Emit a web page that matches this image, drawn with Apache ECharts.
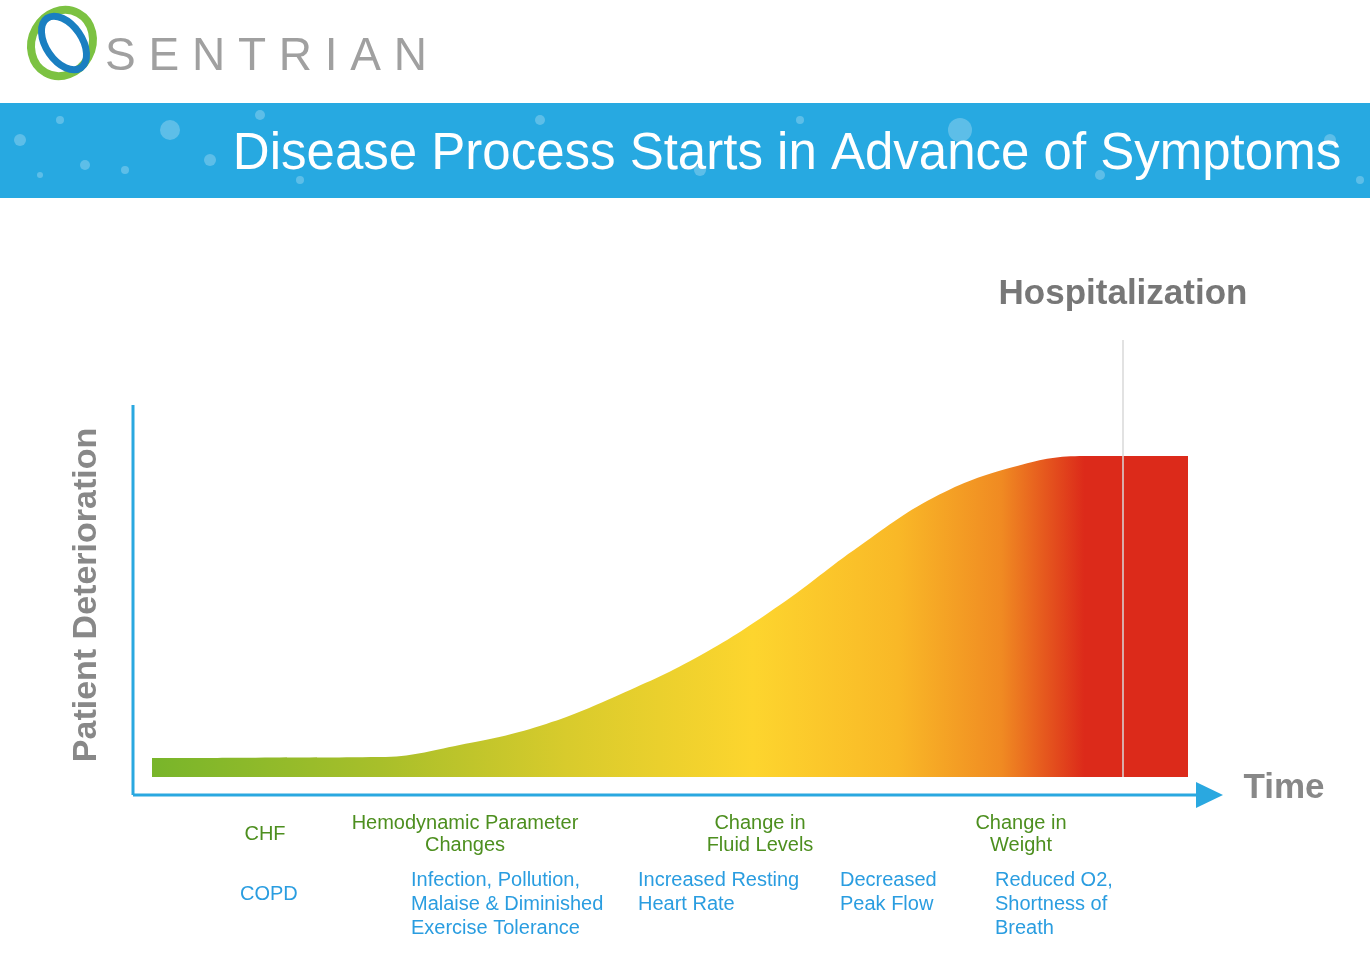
<!DOCTYPE html>
<html><head><meta charset="utf-8">
<script src="https://cdn.jsdelivr.net/npm/echarts@6/dist/echarts.min.js"></script>
<style>html,body{margin:0;padding:0;background:#fff}#c{width:1370px;height:966px}</style>
</head><body><div id="c"></div>
<script>
const xs = [0, 10, 22, 29.7, 37.5, 45, 53, 60.6, 68.3, 76, 83.6, 90, 100];
const ys = [5.9, 6, 6.2, 10, 16, 25.5, 38, 53.6, 72, 88, 97, 100, 100];
const greenLabels = [
  {t:'CHF', x:265, y:834},
  {t:'Hemodynamic Parameter\nChanges', x:465, y:834},
  {t:'Change in\nFluid Levels', x:760, y:834},
  {t:'Change in\nWeight', x:1021, y:834}
];
const blueLabels = [
  {t:'COPD', x:240, y:882},
  {t:'Infection, Pollution,\nMalaise & Diminished\nExercise Tolerance', x:411, y:868},
  {t:'Increased Resting\nHeart Rate', x:638, y:868},
  {t:'Decreased\nPeak Flow', x:840, y:868},
  {t:'Reduced O2,\nShortness of\nBreath', x:995, y:868}
];
const chart = echarts.init(document.getElementById('c'));
const F = 'Liberation Sans, Arial, sans-serif';
const bubbles = [[20,140,6],[60,120,4],[85,165,5],[125,170,4],[170,130,10],[210,160,6],[260,115,5],[300,180,4],[40,175,3],[540,120,5],[700,170,6],[960,130,12],[1100,175,5],[1330,140,6],[1360,180,4],[800,120,4]];
const graphics = [
  {type:'rect', shape:{x:0,y:103,width:1370,height:95}, style:{fill:'#27a9e1'}},
  ...bubbles.map(b=>({type:'circle', shape:{cx:b[0],cy:b[1],r:b[2]}, style:{fill:'rgba(255,255,255,0.25)'}})),
  {type:'text', style:{x:787, y:155, text:'Disease Process Starts in Advance of Symptoms', fill:'#fff', font:'51px '+F, align:'center', verticalAlign:'middle'}},
  {type:'ellipse', shape:{cx:62,cy:43,rx:30,ry:34}, rotation:-0.5, originX:62, originY:43, style:{fill:'none', stroke:'#7cc242', lineWidth:8}},
  {type:'ellipse', shape:{cx:64,cy:43,rx:18,ry:30}, rotation:0.6, originX:64, originY:43, style:{fill:'none', stroke:'#1a7fc1', lineWidth:7}},
  {type:'text', style:{x:105, y:57, text:'S E N T R I A N', fill:'#a0a0a0', font:'300 46px '+F, verticalAlign:'middle'}},
  {type:'line', shape:{x1:133,y1:405,x2:133,y2:795}, style:{stroke:'#2aa8e0', lineWidth:3}},
  {type:'line', shape:{x1:133,y1:795,x2:1200,y2:795}, style:{stroke:'#2aa8e0', lineWidth:3}},
  {type:'polygon', shape:{points:[[1196,782],[1223,795],[1196,808]]}, style:{fill:'#2aa8e0'}},
  {type:'line', z:100, shape:{x1:1123,y1:340,x2:1123,y2:777}, style:{stroke:'#d8d8d8', lineWidth:1.5}},
  {type:'text', style:{x:1123, y:294, text:'Hospitalization', fill:'#777', font:'bold 35px '+F, align:'center', verticalAlign:'middle'}},
  {type:'text', style:{x:1284, y:788, text:'Time', fill:'#888', font:'bold 35px '+F, align:'center', verticalAlign:'middle'}},
  {type:'text', x:87, y:595, rotation:Math.PI/2, style:{x:0, y:0, text:'Patient Deterioration', fill:'#888', font:'bold 34px '+F, align:'center', verticalAlign:'middle'}},
  ...greenLabels.map(l=>({type:'text', style:{x:l.x, y:l.y, text:l.t, fill:'#4d8f1f', font:'20px '+F, align:'center', verticalAlign:'middle', lineHeight:22}})),
  ...blueLabels.map(l=>({type:'text', style:{x:l.x, y:l.y, text:l.t, fill:'#2a9de0', font:'20px '+F, align:'left', verticalAlign:'top', lineHeight:24}}))
];
chart.setOption({
  animation:false,
  grid:{left:152, top:456, width:1036, height:321},
  xAxis:{type:'value', min:0, max:100, show:false},
  yAxis:{type:'value', min:0, max:100, show:false},
  graphic:graphics,
  series:[{
    type:'line', smooth:0.4, symbol:'none',
    data: xs.map((x,i)=>[x, ys[i]]),
    lineStyle:{width:0},
    areaStyle:{opacity:1, color:new echarts.graphic.LinearGradient(0,0,1,0,[
      {offset:0, color:'#78b52a'},
      {offset:0.22, color:'#a8bf2a'},
      {offset:0.4, color:'#d8cb2c'},
      {offset:0.58, color:'#fdd52e'},
      {offset:0.72, color:'#f9b827'},
      {offset:0.82, color:'#f08a22'},
      {offset:0.9, color:'#dc2a1a'},
      {offset:1, color:'#dc2a1a'}
    ])}
  }]
});
</script></body></html>
